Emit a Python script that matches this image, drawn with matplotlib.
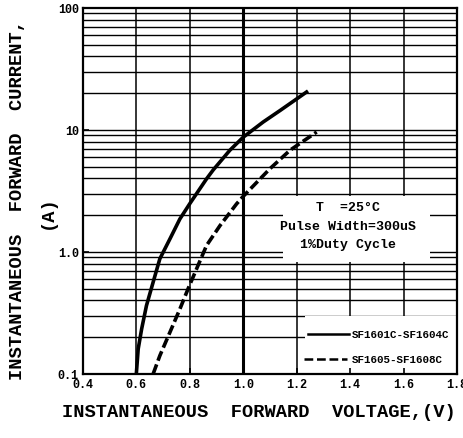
import matplotlib
matplotlib.use("Agg")
import matplotlib.pyplot as plt
from matplotlib.patches import Rectangle

# readings from the reference chart
v_fast = [0.600, 0.607, 0.620, 0.638, 0.663, 0.688, 0.726, 0.763, 0.801, 0.863, 0.888, 0.95, 1.0, 1.075, 1.138, 1.237]
i_fast = [0.10, 0.16, 0.234, 0.363, 0.565, 0.877, 1.28, 1.86, 2.5, 3.97, 4.7, 6.8, 8.7, 11.6, 14.4, 20.4]
v_slow = [0.663, 0.688, 0.726, 0.763, 0.794, 0.826, 0.863, 0.913, 0.975, 1.0, 1.1, 1.175, 1.275]
i_slow = [0.10, 0.141, 0.22, 0.34, 0.50, 0.73, 1.13, 1.64, 2.47, 2.85, 4.8, 6.8, 9.6]
legend_names = ["SF1601C-SF1604C", "SF1605-SF1608C"]
x_ticks = [0.4, 0.6, 0.8, 1.0, 1.2, 1.4, 1.6, 1.8]
x_labels = ["0.4", "0.6", "0.8", "1.0", "1.2", "1.4", "1.6", "1.8"]
y_ticks = [0.1, 1, 10, 100]
y_labels = ["0.1", "1.0", "10", "100"]

font = "Liberation Mono"

fig = plt.figure(figsize=(4.63, 4.39), dpi=100)
ax = fig.add_axes([0.179, 0.146, 0.808, 0.834])
ax.set_axisbelow(False)
ax.set_yscale("log")
ax.set_xlim(0.4, 1.8)
ax.set_ylim(0.1, 100)

# grid
for x in x_ticks[1:-1]:
    ax.axvline(x, color="black", lw=2.2 if x == 1.0 else 1.1, zorder=1)
for dec in [0.1, 1, 10]:
    for m in range(1, 10):
        if dec * m > 0.1:
            ax.axhline(dec * m, color="black", lw=1.0, zorder=1)

# white boxes hiding the grid behind the notes and the legend
ax.add_patch(Rectangle((0.535, 0.307), 0.393, 0.18, transform=ax.transAxes,
                       facecolor="white", edgecolor="none", zorder=2))
ax.add_patch(Rectangle((0.595, 0.0), 0.405, 0.158, transform=ax.transAxes,
                       facecolor="white", edgecolor="none", zorder=2))

ax.plot(v_fast, i_fast, color="black", lw=2.6, zorder=3)
ax.plot(v_slow, i_slow, color="black", lw=2.6, ls=(0, (2.8, 1.1)), zorder=3)

ax.text(0.71, 0.455, "T  =25°C", transform=ax.transAxes, ha="center", va="center",
        family=font, weight="bold", fontsize=9.5, zorder=4)
ax.text(0.71, 0.405, "Pulse Width=300uS", transform=ax.transAxes, ha="center", va="center",
        family=font, weight="bold", fontsize=9.5, zorder=4)
ax.text(0.71, 0.355, "1%Duty Cycle", transform=ax.transAxes, ha="center", va="center",
        family=font, weight="bold", fontsize=9.5, zorder=4)

# legend drawn by hand
ax.plot([0.601, 0.711], [0.109, 0.109], transform=ax.transAxes, color="black", lw=1.8, zorder=4)
ax.plot([0.590, 0.706], [0.041, 0.041], transform=ax.transAxes, color="black", lw=1.8,
        ls=(0, (3.5, 1.5)), zorder=4)
ax.text(0.72, 0.109, legend_names[0], transform=ax.transAxes, ha="left", va="center",
        family=font, weight="bold", fontsize=7.8, zorder=4)
ax.text(0.72, 0.041, legend_names[1], transform=ax.transAxes, ha="left", va="center",
        family=font, weight="bold", fontsize=7.8, zorder=4)

ax.set_xticks(x_ticks)
ax.set_xticklabels(x_labels)
ax.set_yticks(y_ticks)
ax.set_yticklabels(y_labels)
ax.yaxis.set_minor_locator(matplotlib.ticker.NullLocator())
ax.tick_params(direction="in", length=4, width=1.2, pad=3)
for lab in ax.get_xticklabels() + ax.get_yticklabels():
    lab.set_family(font)
    lab.set_weight("bold")
    lab.set_fontsize(8.5)
for s in ax.spines.values():
    s.set_linewidth(1.6)

fig.text(0.56, 0.06, "INSTANTANEOUS  FORWARD  VOLTAGE,(V)", ha="center", va="center",
         family=font, weight="bold", fontsize=13.5)
fig.text(0.037, 0.545, "INSTANTANEOUS  FORWARD  CURRENT,", ha="center", va="center",
         rotation=90, family=font, weight="bold", fontsize=13.5)
fig.text(0.102, 0.517, "(A)", ha="center", va="center",
         rotation=90, family=font, weight="bold", fontsize=13.5)

fig.savefig("out.png", dpi=100)
